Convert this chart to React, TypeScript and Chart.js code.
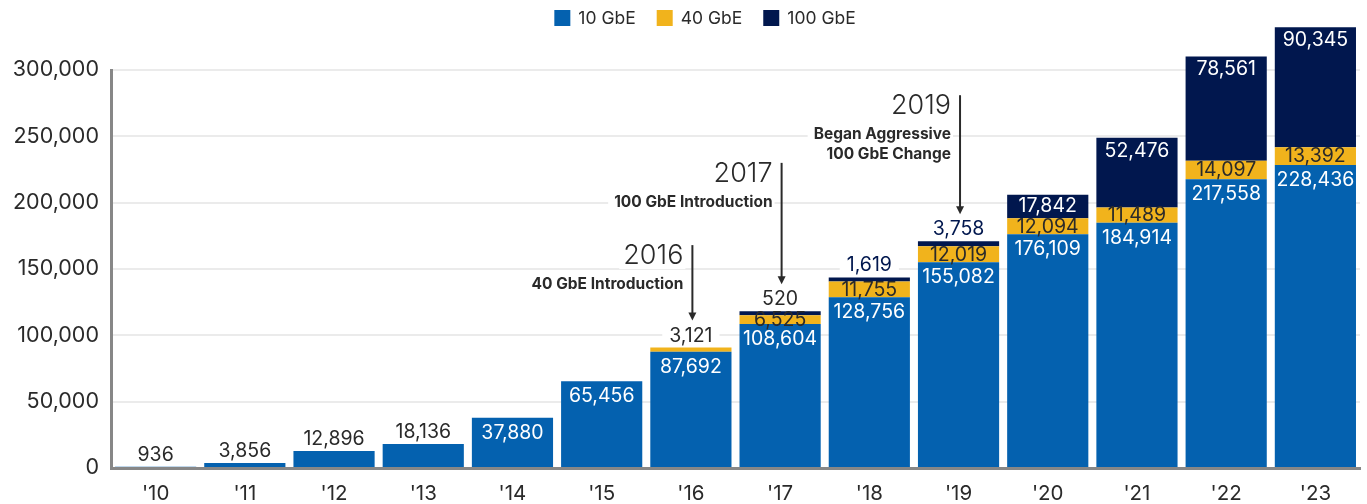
import React, { useEffect, useRef } from "react";
import { Chart, registerables } from "chart.js";
Chart.register(...registerables);

const categories = ["'10", "'11", "'12", "'13", "'14", "'15", "'16", "'17", "'18", "'19", "'20", "'21", "'22", "'23"];
const gbe10 = [936, 3856, 12896, 18136, 37880, 65456, 87692, 108604, 128756, 155082, 176109, 184914, 217558, 228436];
const gbe40 = [null, null, null, null, null, null, 3121, 6525, 11755, 12019, 12094, 11489, 14097, 13392];
const gbe100 = [null, null, null, null, null, null, null, 520, 1619, 3758, 17842, 52476, 78561, 90345];
const seriesNames = ["10 GbE", "40 GbE", "100 GbE"];
const yTicks = [0, 50000, 100000, 150000, 200000, 250000, 300000];

const annotations = [
  { index: 6, year: "2016", lines: ["40 GbE Introduction"], from: 168000 },
  { index: 7, year: "2017", lines: ["100 GbE Introduction"], from: 230000 },
  { index: 9, year: "2019", lines: ["Began Aggressive", "100 GbE Change"], from: 281000 },
];

const BLUE = "#0461AF";
const YELLOW = "#F1B31C";
const NAVY = "#01174E";
const DARK = "#2A2A2A";
const FONT = "Inter, 'Noto Sans', sans-serif";
const grayAboveLabels: Record<string, boolean> = { "2-7": true };

const fmt = (v: number) => v.toLocaleString("en-US");

type Lbl = { text: string; x: number; y: number; color: string; bg: boolean };

const labelPlugin = {
  id: "customLabels",
  afterDatasetsDraw(chart: any) {
    const ctx = chart.ctx as CanvasRenderingContext2D;
    const n = chart.data.labels.length;
    const labels: Lbl[] = [];
    ctx.save();
    for (let j = 0; j < n; j++) {
      for (let i = 0; i < chart.data.datasets.length; i++) {
        const v = chart.data.datasets[i].data[j];
        if (v == null) continue;
        const el = chart.getDatasetMeta(i).data[j];
        const top = Math.min(el.y, el.base);
        const h = Math.abs(el.base - el.y);
        const text = fmt(v);
        const x = el.x;
        if (i === 0) {
          if (h >= 30) labels.push({ text, x, y: top + 15, color: "#ffffff", bg: false });
          else labels.push({ text, x, y: top - 11.5, color: DARK, bg: true });
        } else if (i === 1) {
          if (h >= 5) labels.push({ text, x, y: top + h / 2 + 0.5, color: DARK, bg: false });
          else labels.push({ text, x, y: top - 11.5, color: DARK, bg: true });
        } else {
          if (h >= 20) labels.push({ text, x, y: top + Math.min(13, h / 2), color: "#ffffff", bg: false });
          else labels.push({ text, x, y: top - 12, color: grayAboveLabels[`${i}-${j}`] ? DARK : NAVY, bg: true });
        }
      }
    }
    ctx.font = `400 19.5px ${FONT}`;
    ctx.textAlign = "center";
    ctx.textBaseline = "middle";
    for (const l of labels) {
      if (!l.bg) continue;
      const w = ctx.measureText(l.text).width;
      ctx.fillStyle = "#ffffff";
      ctx.fillRect(l.x - w / 2 - 7, l.y - 9, w + 14, 17);
    }
    for (const l of labels) {
      ctx.fillStyle = l.color;
      ctx.fillText(l.text, l.x, l.y);
    }

    // annotations
    const yScale = chart.scales.y;
    const yearFont = `300 27px ${FONT}`;
    const subFont = `700 15.5px ${FONT}`;
    for (const a of annotations) {
      let topY = Infinity;
      for (let i = 0; i < chart.data.datasets.length; i++) {
        if (chart.data.datasets[i].data[a.index] == null) continue;
        const el = chart.getDatasetMeta(i).data[a.index];
        topY = Math.min(topY, el.y, el.base);
      }
      const x = chart.getDatasetMeta(0).data[a.index].x + 1.5;
      const y0 = yScale.getPixelForValue(a.from);
      const tip = topY - 27;
      const tx = x - 9;
      ctx.font = yearFont;
      const yw = ctx.measureText(a.year).width;
      ctx.fillStyle = "#ffffff";
      ctx.fillRect(tx - yw - 4, y0 - 4, yw + 6, 28);
      ctx.font = subFont;
      a.lines.forEach((l, k) => {
        const w = ctx.measureText(l).width;
        ctx.fillStyle = "#ffffff";
        ctx.fillRect(tx - w - 6, y0 + 29 + k * 20, w + 8, 20);
      });
      ctx.fillStyle = DARK;
      ctx.textAlign = "right";
      ctx.textBaseline = "middle";
      ctx.font = yearFont;
      ctx.fillText(a.year, tx, y0 + 11);
      ctx.font = subFont;
      a.lines.forEach((l, k) => ctx.fillText(l, tx, y0 + 39 + k * 20));
      ctx.strokeStyle = DARK;
      ctx.lineWidth = 2;
      ctx.beginPath();
      ctx.moveTo(x, y0);
      ctx.lineTo(x, tip - 6);
      ctx.stroke();
      ctx.beginPath();
      ctx.moveTo(x - 4, tip - 8);
      ctx.lineTo(x + 4, tip - 8);
      ctx.lineTo(x, tip);
      ctx.closePath();
      ctx.fillStyle = DARK;
      ctx.fill();
    }

    // legend
    const ds = chart.data.datasets;
    ctx.font = `400 17.5px ${FONT}`;
    const box = 16;
    const gapText = 8;
    const gapItem = 21;
    const widths = ds.map((d: any) => box + gapText + ctx.measureText(d.label).width);
    const total = widths.reduce((s: number, w: number) => s + w, 0) + gapItem * (ds.length - 1);
    let lx = 705 - total / 2;
    const ly = 18;
    ds.forEach((d: any, i: number) => {
      ctx.fillStyle = d.backgroundColor;
      ctx.fillRect(lx, ly - box / 2, box, box);
      ctx.fillStyle = DARK;
      ctx.textAlign = "left";
      ctx.textBaseline = "middle";
      ctx.fillText(d.label, lx + box + gapText, ly + 1);
      lx += widths[i] + gapItem;
    });
    ctx.restore();
  },
};

export default function App() {
  const ref = useRef<HTMLCanvasElement>(null);
  useEffect(() => {
    if (!ref.current) return;
    const chart = new Chart(ref.current, {
      type: "bar",
      data: {
        labels: categories,
        datasets: [
          { label: seriesNames[0], data: gbe10, backgroundColor: BLUE, clip: false as any },
          { label: seriesNames[1], data: gbe40, backgroundColor: YELLOW, clip: false as any },
          { label: seriesNames[2], data: gbe100, backgroundColor: NAVY, clip: false as any, minBarLength: 4 },
        ],
      },
      options: {
        responsive: false,
        animation: false,
        layout: { padding: { top: 70, left: 0, right: 7, bottom: 0 } },
        datasets: { bar: { barPercentage: 0.91, categoryPercentage: 1 } },
        plugins: { legend: { display: false }, tooltip: { enabled: false }, title: { display: false } },
        scales: {
          x: {
            stacked: true,
            grid: { display: false },
            border: { display: true, color: "#878787", width: 3 },
            ticks: { color: DARK, font: { family: FONT, size: 20.5 }, padding: 6 },
            afterFit: (s: any) => { s.height = 36; },
          },
          y: {
            stacked: true,
            min: 0,
            max: 300000,
            afterBuildTicks: (s: any) => { s.ticks = yTicks.map((v) => ({ value: v })); },
            grid: { color: "#ebebeb", lineWidth: 2, drawTicks: false },
            border: { display: true, color: "#878787", width: 3 },
            ticks: { color: DARK, font: { family: FONT, size: 21.5 }, padding: 12, callback: (v: any) => fmt(Number(v)) },
            afterFit: (s: any) => { s.width = 111; },
          },
        },
      },
      plugins: [labelPlugin],
    });
    return () => chart.destroy();
  }, []);
  return (
    <div style={{ position: "fixed", left: 0, top: 0, width: 1367, height: 504, background: "#fff" }}>
      <canvas ref={ref} width={1367} height={504} />
    </div>
  );
}
